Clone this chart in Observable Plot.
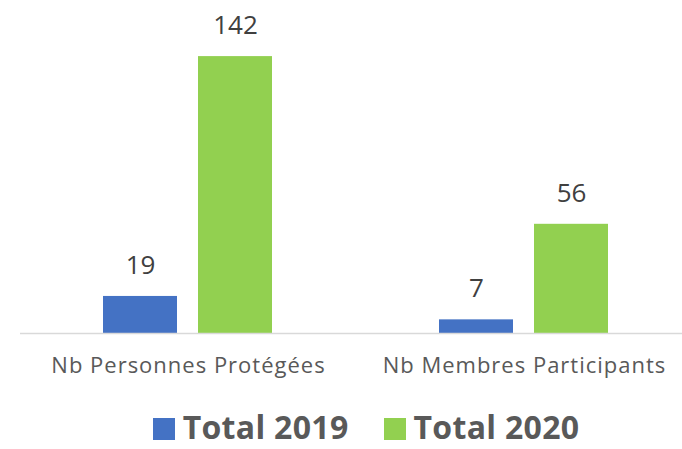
<!DOCTYPE html>
<html><head><meta charset="utf-8">
<script src="https://cdn.jsdelivr.net/npm/d3@7"></script>
<script src="https://cdn.jsdelivr.net/npm/@observablehq/plot@0.6"></script>
<style>
body{margin:0;background:#fff;font-family:"Open Sans",sans-serif;overflow:hidden;}
#legend{display:flex;justify-content:center;align-items:center;gap:35px;font-weight:bold;font-size:32px;color:#595959;margin-top:22px;margin-left:50px;line-height:30px;height:30px;letter-spacing:0.3px;}
#legend span.sw{display:inline-block;width:22px;height:22px;margin-right:8px;vertical-align:-1px;}
</style></head>
<body><div id="chart"></div><div id="legend"></div>
<script>
const categories = ["Nb Personnes Protégées", "Nb Membres Participants"];
const series = ["Total 2019", "Total 2020"];
const values2019 = [19, 7];
const values2020 = [142, 56];
const colors = ["#4472C4", "#92D050"];

const data = [];
categories.forEach((c, i) => {
  data.push({cat: c, serie: series[0], value: values2019[i]});
  data.push({cat: c, serie: series[1], value: values2020[i]});
});

const chart = Plot.plot({
  width: 682,
  height: 390,
  marginLeft: 20,
  marginRight: -10,
  marginTop: 21,
  marginBottom: 57,
  style: {fontFamily: "'Open Sans', sans-serif", color: "#595959", background: "#fff"},
  fx: {domain: categories, padding: 0, axis: null},
  x: {domain: series, paddingInner: 0.219, paddingOuter: 0.86, axis: null},
  y: {domain: [0, 160], axis: null},
  color: {domain: series, range: colors},
  marks: [
    Plot.barY(data, {fx: "cat", x: "serie", y: "value", fill: "serie"}),
    Plot.ruleY([0], {stroke: "#d9d9d9", strokeWidth: 1.5}),
    Plot.text(data, {fx: "cat", x: "serie", y: "value", text: d => String(d.value), dy: -31, fontSize: 26, fill: "#404040"}),
    Plot.text(categories, {fx: d => d, text: d => d, frameAnchor: "bottom", dy: 39, fontSize: 22, fill: "#595959"})
  ]
});
chart.querySelectorAll("text").forEach(t => {
  if (categories.includes(t.textContent)) t.setAttribute("letter-spacing", "1");
});
document.getElementById("chart").appendChild(chart);

const legend = document.getElementById("legend");
series.forEach((s, i) => {
  const item = document.createElement("div");
  const sw = document.createElement("span");
  sw.className = "sw";
  sw.style.background = colors[i];
  item.appendChild(sw);
  item.appendChild(document.createTextNode(s));
  legend.appendChild(item);
});
</script></body></html>
